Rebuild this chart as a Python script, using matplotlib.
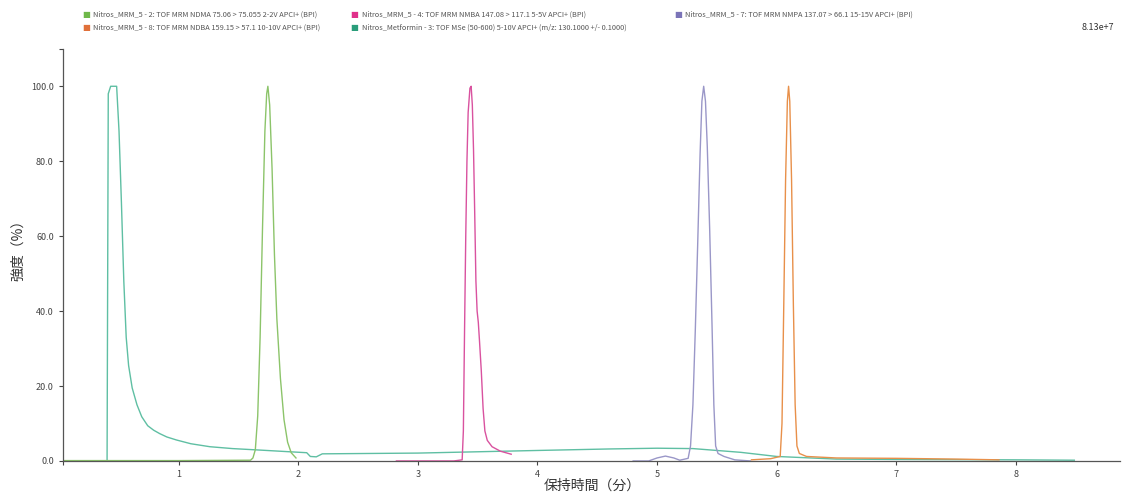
import matplotlib
matplotlib.use("Agg")
import matplotlib.pyplot as plt

plt.rcParams['font.family'] = ['Noto Sans CJK JP', 'DejaVu Sans']

# 系列のラベルと色
labels = [
    "Nitros_MRM_5 - 2: TOF MRM NDMA 75.06 > 75.055 2-2V APCI+ (BPI)",
    "Nitros_MRM_5 - 4: TOF MRM NMBA 147.08 > 117.1 5-5V APCI+ (BPI)",
    "Nitros_MRM_5 - 7: TOF MRM NMPA 137.07 > 66.1 15-15V APCI+ (BPI)",
    "Nitros_MRM_5 - 8: TOF MRM NDBA 159.15 > 57.1 10-10V APCI+ (BPI)",
    "Nitros_Metformin - 3: TOF MSe (50-600) 5-10V APCI+ (m/z: 130.1000 +/- 0.1000)",
]
marker_colors = ["#6fb84a", "#e0308a", "#7b74b8", "#e0703a", "#2a9d7a"]
line_colors = ["#8cc46a", "#d9529f", "#9a97c8", "#e8904a", "#5fbfa3"]

# NDMA
ndma_t = [0.0, 1.0, 1.60, 1.62, 1.64, 1.66, 1.68, 1.70, 1.72, 1.735, 1.745, 1.76, 1.78,
          1.80, 1.82, 1.85, 1.88, 1.91, 1.94, 1.98]
ndma_y = [0.1, 0.1, 0.2, 0.8, 3.0, 12.0, 33.0, 62.0, 88.0, 98.0, 100.0, 95.0, 78.0,
          55.0, 38.0, 22.0, 11.0, 5.0, 2.2, 0.8]

# NMBA
nmba_t = [2.82, 3.30, 3.37, 3.38, 3.39, 3.40, 3.41, 3.42, 3.435, 3.445, 3.455, 3.465,
          3.475, 3.485, 3.495, 3.505, 3.515, 3.53, 3.545, 3.56, 3.58, 3.62, 3.69, 3.78]
nmba_y = [0.0, 0.0, 0.3, 8.0, 35.0, 60.0, 80.0, 93.0, 99.5, 100.0, 95.0, 83.0,
          66.0, 48.0, 40.0, 37.0, 32.0, 24.0, 14.0, 8.0, 5.5, 3.8, 2.6, 1.8]

# NMPA
nmpa_t = [4.80, 4.93, 5.00, 5.07, 5.14, 5.19, 5.26, 5.28, 5.30, 5.32, 5.34, 5.36, 5.375,
          5.39, 5.405, 5.42, 5.44, 5.46, 5.475, 5.49, 5.51, 5.56, 5.65, 5.78]
nmpa_y = [0.0, 0.0, 0.8, 1.3, 0.8, 0.2, 0.7, 4.0, 15.0, 35.0, 58.0, 82.0, 96.0,
          100.0, 96.0, 84.0, 62.0, 36.0, 15.0, 4.0, 2.0, 1.2, 0.3, 0.0]

# NDBA
ndba_t = [5.79, 5.95, 6.03, 6.045, 6.06, 6.075, 6.09, 6.10, 6.11, 6.125, 6.14, 6.155,
          6.17, 6.19, 6.25, 6.50, 7.00, 7.50, 7.86]
ndba_y = [0.3, 0.6, 1.2, 10.0, 42.0, 75.0, 96.0, 100.0, 96.0, 75.0, 42.0, 15.0,
          4.0, 2.0, 1.2, 0.8, 0.7, 0.5, 0.3]

# Metformin
metf_t = [0.0, 0.40, 0.41, 0.43, 0.48, 0.50, 0.52, 0.54, 0.56, 0.58, 0.61, 0.65, 0.69,
          0.74, 0.79, 0.84, 0.90, 0.98, 1.10, 1.26, 1.45, 1.68, 1.90, 2.07, 2.10, 2.15,
          2.20, 3.0, 4.0, 4.6, 5.0, 5.3, 5.7, 6.0, 6.5, 7.0, 8.0, 8.49]
metf_y = [0.0, 0.0, 98.0, 100.0, 100.0, 88.0, 69.0, 48.0, 33.0, 25.5, 19.5, 15.0, 11.8,
          9.4, 8.2, 7.3, 6.4, 5.6, 4.6, 3.8, 3.3, 2.9, 2.5, 2.2, 1.2, 1.1,
          1.9, 2.1, 2.8, 3.2, 3.4, 3.3, 2.3, 1.2, 0.5, 0.4, 0.3, 0.2]

series_t = [ndma_t, nmba_t, nmpa_t, ndba_t, metf_t]
series_y = [ndma_y, nmba_y, nmpa_y, ndba_y, metf_y]

x_ticks = [1, 2, 3, 4, 5, 6, 7, 8]
y_ticks = [0, 20, 40, 60, 80, 100]
max_label = "8.13e+7"

fig = plt.figure(figsize=(11.22, 4.93), dpi=100)
ax = fig.add_axes([0.056, 0.065, 0.942, 0.836])

# 重ね順: 後ろにメトホルミン
order = [4, 0, 1, 2, 3]
for i in order:
    ax.plot(series_t[i], series_y[i], color=line_colors[i], linewidth=1.0)

ax.set_xlim(0.03, 8.87)
ax.set_ylim(0, 110)
ax.set_xticks(x_ticks)
ax.set_xticklabels([str(v) for v in x_ticks])
ax.set_yticks(y_ticks)
ax.set_yticklabels([f"{v:.1f}" for v in y_ticks])
# 軸の端の目盛り
ax.set_yticks([110], minor=True)
ax.set_xticks([0.03], minor=True)
ax.tick_params(axis='both', which='both', labelsize=6.5, colors='#444444', length=3, width=0.8)
for s in ['top', 'right']:
    ax.spines[s].set_visible(False)
for s in ['left', 'bottom']:
    ax.spines[s].set_color('#555555')
    ax.spines[s].set_linewidth(0.9)

ax.set_xlabel("保持時間（分）", fontsize=10, color='#333333')
ax.xaxis.set_label_coords(0.501, -0.044)
ax.set_ylabel("強度（%）", fontsize=10, color='#333333')
ax.yaxis.set_label_coords(-0.036, 0.52)

# 凡例（3列 x 2行）
col_x = [0.0766, 0.316, 0.604]
row_y = [0.971, 0.945]
grid_pos = [(0, 0), (1, 0), (2, 0), (0, 1), (1, 1)]
for (c, r), lab, col in zip(grid_pos, labels, marker_colors):
    fig.text(col_x[c], row_y[r], "■", color=col, fontsize=6, va='center', ha='center',
             family=['DejaVu Sans'])
    fig.text(col_x[c] + 0.0065, row_y[r], lab, color='#555555', fontsize=5.3, va='center',
             ha='left')

fig.text(0.993, 0.945, max_label, color='#333333', fontsize=6.5, va='center', ha='right')

fig.savefig("out.png", dpi=100)
